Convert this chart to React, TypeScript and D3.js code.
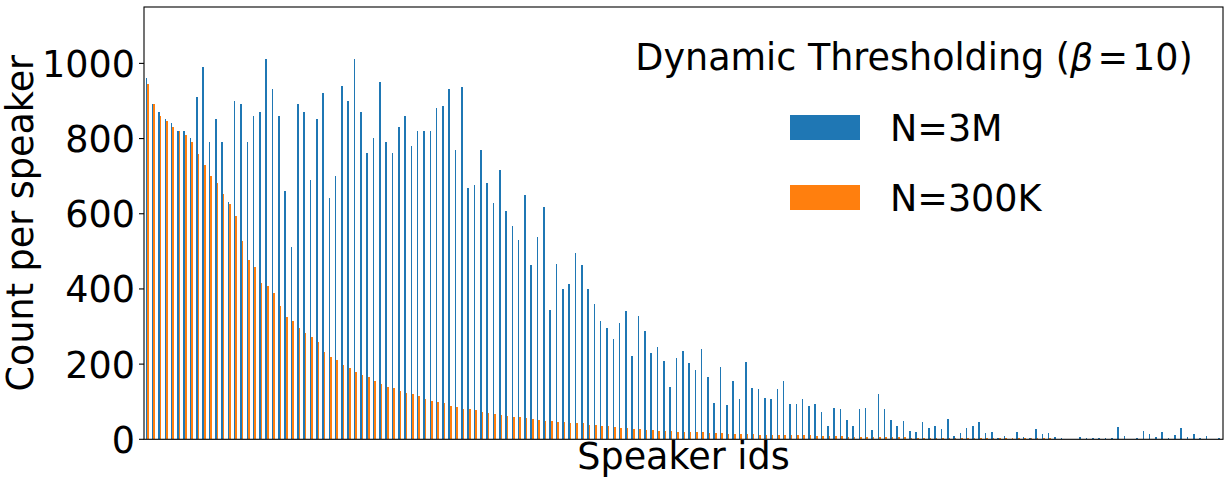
import React from 'react';
import * as d3 from 'd3';

// counts per speaker, speakers ordered by the N=300K count
const blue3M = [
  960, 892, 870, 851, 841, 820, 820, 801, 911, 991,
  791, 851, 791, 631, 900, 891, 791, 860, 870, 1012,
  932, 860, 661, 512, 892, 870, 690, 852, 921, 642,
  700, 940, 900, 1012, 870, 761, 801, 950, 791, 761,
  830, 860, 780, 820, 820, 820, 881, 886, 932, 770,
  937, 668, 676, 770, 682, 629, 716, 607, 567, 530,
  650, 464, 538, 618, 344, 466, 400, 413, 496, 464,
  400, 360, 315, 296, 267, 309, 342, 222, 328, 288,
  230, 246, 208, 139, 216, 235, 203, 184, 240, 167,
  97, 192, 91, 155, 107, 206, 137, 134, 110, 107,
  134, 155, 94, 94, 107, 89, 94, 73, 35, 83,
  81, 51, 35, 81, 83, 25, 121, 81, 51, 35,
  49, 22, 20, 46, 30, 35, 27, 54, 9, 17,
  30, 35, 46, 17, 20, 4, 9, 2, 20, 6,
  4, 27, 14, 17, 6, 4, 0, 0, 6, 4,
  4, 4, 4, 4, 33, 9, 0, 4, 22, 14,
  6, 20, 4, 12, 30, 6, 14, 4, 9, 0,
  4,
];

const orange300K = [
  945, 892, 860, 846, 830, 820, 809, 791, 760, 730,
  700, 682, 652, 626, 594, 527, 477, 458, 416, 408,
  390, 355, 325, 314, 296, 283, 272, 259, 232, 220,
  211, 198, 189, 179, 171, 165, 156, 147, 139, 137,
  129, 122, 120, 115, 107, 103, 99, 97, 89, 86,
  81, 81, 77, 73, 70, 67, 65, 62, 59, 59,
  57, 54, 51, 49, 49, 46, 46, 43, 43, 43,
  38, 38, 35, 35, 33, 30, 30, 27, 27, 25,
  25, 22, 22, 22, 20, 20, 20, 20, 20, 17,
  17, 17, 14, 14, 14, 14, 14, 12, 12, 12,
  12, 12, 12, 12, 12, 12, 9, 9, 9, 9,
  9, 6, 6, 6, 6, 6, 6, 6, 6, 6,
  5, 3, 3, 3, 3, 3, 3, 3, 3, 3,
  3, 3, 3, 3, 3, 3, 3, 3, 3, 3,
  3, 3, 3, 3, 0, 0, 0, 0, 0, 0,
  0, 0, 0, 0, 0, 0, 0, 0, 0, 0,
  0, 0, 0, 0, 0, 0, 0, 0, 0, 0,
  0,
];

const seriesNames = ['N=3M', 'N=300K'];
const yTicks = [0, 200, 400, 600, 800, 1000];

const W = 1231;
const H = 484;
const margin = { left: 144, right: 1223, top: 7, bottom: 439.3 };
const FONT = 'DejaVu Sans';
const FS = 36.5;
const colors = ['#1f77b4', '#ff7f0e'];

export default function App() {
  const n = blue3M.length;
  const x = d3.scaleLinear().domain([-0.5, n - 0.5]).range([margin.left, margin.right]);
  const y = d3.scaleLinear().domain([0, 1150]).range([margin.bottom, margin.top]);
  const bw = 0.25;

  return (
    <svg
      width={W}
      height={H}
      style={{ position: 'absolute', left: 0, top: 0, background: '#fff' }}
      fontFamily={FONT}
    >
      <rect width={W} height={H} fill="#fff" />
      <g shapeRendering="crispEdges">
        {blue3M.map((v, i) => (
          <rect
            key={'b' + i}
            x={x(i - bw)}
            width={x(i) - x(i - bw)}
            y={y(v)}
            height={y(0) - y(v)}
            fill={colors[0]}
          />
        ))}
        {orange300K.map((v, i) => (
          <rect
            key={'o' + i}
            x={x(i)}
            width={x(i + bw) - x(i)}
            y={y(v)}
            height={y(0) - y(v)}
            fill={colors[1]}
          />
        ))}
      </g>

      {/* frame */}
      <rect
        x={margin.left}
        y={margin.top}
        width={margin.right - margin.left}
        height={margin.bottom - margin.top}
        fill="none"
        stroke="#000"
        strokeWidth={1.1}
      />

      {/* y axis */}
      {yTicks.map((t) => (
        <g key={t}>
          <line x1={margin.left - 5} x2={margin.left} y1={y(t)} y2={y(t)} stroke="#000" strokeWidth={1.1} />
          <text x={margin.left - 9} y={y(t)} dy="0.37em" textAnchor="end" fontSize={FS} fill="#000">
            {t}
          </text>
        </g>
      ))}
      <text
        transform={`translate(33,${(margin.top + margin.bottom) / 2}) rotate(-90)`}
        textAnchor="middle"
        fontSize={FS}
        fill="#000"
      >
        Count per speaker
      </text>
      <text x={(margin.left + margin.right) / 2} y={469} textAnchor="middle" fontSize={FS} fill="#000">
        Speaker ids
      </text>

      {/* legend */}
      <text x={914} y={70} textAnchor="middle" fontSize={FS} fill="#000">
        Dynamic Thresholding (<tspan fontStyle="italic">β</tspan>
        <tspan dx={4}>=</tspan>
        <tspan dx={4}>10)</tspan>
      </text>
      {seriesNames.map((s, i) => (
        <g key={s} transform={`translate(790,${115 + i * 70})`}>
          <rect width={70} height={25} fill={colors[i]} />
          <text x={100} y={12.5} dy="0.37em" fontSize={FS} fill="#000">
            {s}
          </text>
        </g>
      ))}
    </svg>
  );
}
